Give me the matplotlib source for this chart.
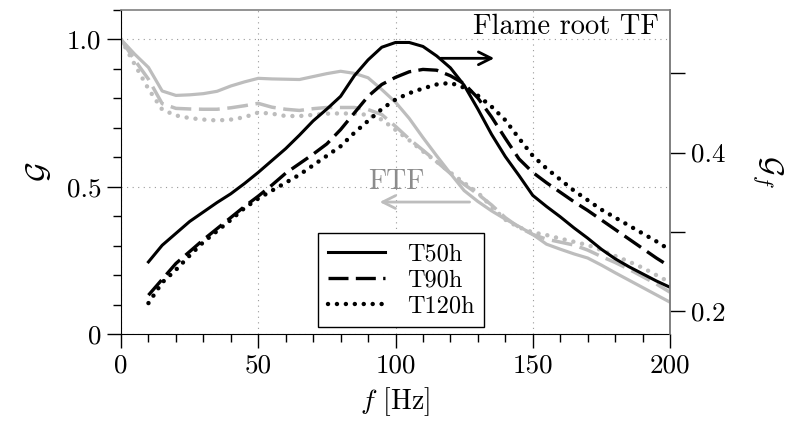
import matplotlib
matplotlib.use('Agg')
import matplotlib.pyplot as plt
from matplotlib.ticker import MultipleLocator

plt.rcParams['font.family'] = 'serif'
plt.rcParams['font.serif'] = ['cmr10']
plt.rcParams['mathtext.fontset'] = 'cm'
plt.rcParams['axes.formatter.use_mathtext'] = True

# FTF (left axis, gray)
f_ftf = [0, 5, 10, 15, 20, 25, 30, 35, 40, 45, 50, 55, 60, 65, 70, 75, 80, 85, 90, 95, 100,
         105, 110, 115, 120, 125, 130, 135, 140, 145, 150, 155, 160, 165, 170, 175, 180, 185,
         190, 195, 200]
ftf_t50 = [1.0, 0.95, 0.905, 0.825, 0.810, 0.812, 0.816, 0.824, 0.842, 0.856, 0.868, 0.866,
           0.865, 0.864, 0.874, 0.884, 0.892, 0.885, 0.870, 0.830, 0.787, 0.732, 0.667, 0.605,
           0.545, 0.487, 0.450, 0.418, 0.390, 0.365, 0.338, 0.305, 0.288, 0.272, 0.258, 0.234,
           0.208, 0.183, 0.158, 0.133, 0.108]
ftf_t90 = [1.0, 0.93, 0.865, 0.782, 0.766, 0.764, 0.763, 0.763, 0.768, 0.775, 0.783, 0.770,
           0.763, 0.759, 0.765, 0.769, 0.769, 0.769, 0.762, 0.745, 0.705, 0.662, 0.624, 0.585,
           0.545, 0.508, 0.475, 0.438, 0.395, 0.362, 0.338, 0.322, 0.312, 0.302, 0.285, 0.263,
           0.243, 0.220, 0.195, 0.170, 0.142]
ftf_t120 = [1.0, 0.915, 0.832, 0.762, 0.742, 0.733, 0.728, 0.725, 0.728, 0.736, 0.752, 0.748,
            0.740, 0.740, 0.744, 0.748, 0.749, 0.748, 0.744, 0.728, 0.693, 0.658, 0.620, 0.585,
            0.548, 0.513, 0.480, 0.432, 0.388, 0.362, 0.345, 0.336, 0.324, 0.313, 0.302, 0.285,
            0.265, 0.246, 0.225, 0.200, 0.175]

# Flame root TF (right axis, black)
f_root = [10, 15, 20, 25, 30, 35, 40, 45, 50, 55, 60, 65, 70, 75, 80, 85, 90, 95, 100, 105,
          110, 115, 120, 125, 130, 135, 140, 145, 150, 155, 160, 165, 170, 175, 180, 185, 190,
          195, 200]
root_t50 = [0.262, 0.283, 0.298, 0.313, 0.325, 0.337, 0.348, 0.361, 0.375, 0.390, 0.405,
            0.422, 0.440, 0.455, 0.471, 0.497, 0.517, 0.533, 0.539, 0.539, 0.534, 0.522, 0.507,
            0.485, 0.455, 0.423, 0.395, 0.371, 0.346, 0.332, 0.319, 0.305, 0.292, 0.278, 0.266,
            0.256, 0.247, 0.238, 0.230]
root_t90 = [0.220, 0.240, 0.260, 0.275, 0.290, 0.304, 0.318, 0.332, 0.345, 0.359, 0.374,
            0.386, 0.398, 0.411, 0.429, 0.450, 0.471, 0.486, 0.495, 0.502, 0.505, 0.504, 0.497,
            0.487, 0.469, 0.445, 0.418, 0.392, 0.375, 0.362, 0.350, 0.338, 0.327, 0.315, 0.303,
            0.291, 0.279, 0.267, 0.256]
root_t120 = [0.210, 0.236, 0.252, 0.270, 0.287, 0.301, 0.315, 0.330, 0.342, 0.352, 0.362,
             0.372, 0.384, 0.396, 0.408, 0.425, 0.440, 0.455, 0.467, 0.475, 0.481, 0.486, 0.488,
             0.482, 0.472, 0.458, 0.441, 0.418, 0.396, 0.380, 0.366, 0.352, 0.340, 0.328, 0.318,
             0.308, 0.298, 0.288, 0.277]

labels = ['T50h', 'T90h', 'T120h']

gray = '#bdbdbd'
dashed = (0, (6, 2.2))
dotted = (0, (0.01, 2.0))

fig = plt.figure(figsize=(7.91, 4.28), dpi=100)
ax = fig.add_axes([121 / 791, 1 - 334 / 428, 549 / 791, 324 / 428])
ax2 = ax.twinx()

# gray FTF curves
ax.plot(f_ftf, ftf_t50, color=gray, lw=2.3, ls='-')
ax.plot(f_ftf, ftf_t90, color=gray, lw=2.5, ls=dashed)
ax.plot(f_ftf, ftf_t120, color=gray, lw=3.2, ls=dotted, dash_capstyle='round')

# black flame root curves
ax2.plot(f_root, root_t50, color='k', lw=2.2, ls='-', label=labels[0])
ax2.plot(f_root, root_t90, color='k', lw=2.4, ls=dashed, label=labels[1])
ax2.plot(f_root, root_t120, color='k', lw=3.2, ls=dotted, dash_capstyle='round', label=labels[2])

# axes limits / ticks
ax.set_xlim(0, 200)
ax.set_ylim(0, 1.1)
ax.set_xticks([0, 50, 100, 150, 200])
ax.set_xticklabels(['0', '50', '100', '150', '200'])
ax.set_yticks([0, 0.5, 1.0])
ax.set_yticklabels(['0', '0.5', '1.0'])
ax.xaxis.set_minor_locator(MultipleLocator(10))
ax.yaxis.set_minor_locator(MultipleLocator(0.1))
ax.tick_params(which='major', direction='out', length=10, width=1, labelsize=19.5, pad=4)
ax.tick_params(which='minor', direction='out', length=5.5, width=1)

ax2.set_ylim(0.171, 0.580)
ax2.set_yticks([0.2, 0.3, 0.4, 0.5])
ax2.set_yticklabels(['0.2', '', '0.4', ''])
ax2.tick_params(axis='y', direction='out', length=11, width=1, labelsize=19.5, pad=4)

for s in ['top', 'right']:
    ax.spines[s].set_color('#808080')
    ax.spines[s].set_linewidth(1.2)
for s in ['top', 'left', 'bottom']:
    ax2.spines[s].set_visible(False)
ax2.spines['right'].set_color('#808080')
ax2.spines['right'].set_linewidth(1.2)

ax.grid(True, which='major', color='#999999', ls=(0, (1, 4)), lw=0.8)

ax.set_xlabel('$f$ [Hz]', fontsize=20, labelpad=6)
ax.set_ylabel(r'$\mathcal{G}$', fontsize=22, labelpad=10)
ax2.set_ylabel(r'$\mathcal{G}_f$', fontsize=22, rotation=270, labelpad=43)

# annotations
ax.text(196, 1.044, 'Flame root TF', ha='right', va='center', fontsize=20.5)
ax.annotate('', xy=(137, 0.936), xytext=(115.5, 0.936),
            arrowprops=dict(arrowstyle='->', lw=2, color='k', mutation_scale=23))
ax.text(100.4, 0.515, 'FTF', color='#8c8c8c', ha='center', va='center', fontsize=20)
ax.annotate('', xy=(93.2, 0.448), xytext=(128, 0.448),
            arrowprops=dict(arrowstyle='->', lw=2, color=gray, mutation_scale=23))

leg = ax2.legend(loc='lower left', bbox_to_anchor=(0.359, 0.0216), borderaxespad=0,
                 fontsize=17.5, handlelength=2.35, handletextpad=0.9, labelspacing=0.16,
                 borderpad=0.4, fancybox=False, framealpha=1, edgecolor='k')
leg.get_frame().set_linewidth(1.0)

fig.savefig('out.png', dpi=100)
